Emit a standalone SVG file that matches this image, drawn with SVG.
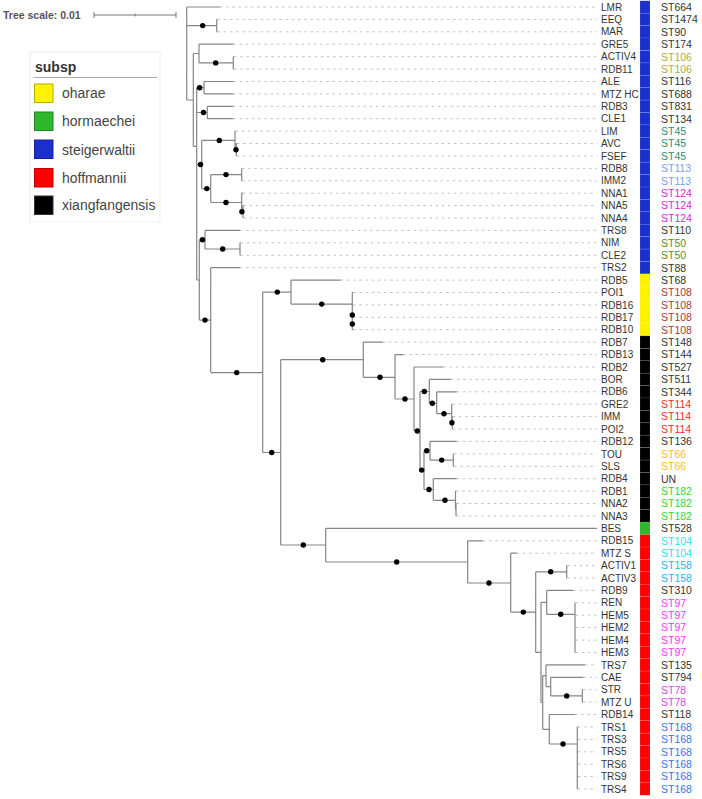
<svg xmlns="http://www.w3.org/2000/svg" width="702" height="799" viewBox="0 0 702 799">
<style>
text{font-family:"Liberation Sans",Arial,sans-serif}
.nm{font-size:10px;fill:#333}
.st{font-size:10.5px;fill:#333}
.br{fill:none;stroke:#858585;stroke-width:1.2}
.ds{fill:none;stroke:#c2c2c2;stroke-width:1;stroke-dasharray:2.5 3.7}
.bs{fill:#000}
.b{fill:#1b2fce}.y{fill:#fff200}.k{fill:#000}.g{fill:#2db82d}.r{fill:#ff0000}
.cell{stroke:#fff;stroke-opacity:0.18;stroke-width:0.6}
.s106{fill:#b4a84a}.s45{fill:#2a8c7e}.s113{fill:#7aa0e8}.s124{fill:#d81fd0}.s50{fill:#5a8c28}
.s108{fill:#a83838}.s114{fill:#ff2a2a}.s66{fill:#ffbb22}.s182{fill:#22dd33}.s104{fill:#22e6f0}
.s158{fill:#22b4f5}.s97{fill:#ff33ff}.s78{fill:#dd44ee}.s168{fill:#3377ee}
.lg{font-size:14px;fill:#444}
</style>
<rect width="702" height="799" fill="#fff"/>
<g id="scale">
<text x="3" y="18.5" font-size="10.5" font-weight="bold" fill="#555">Tree scale: 0.01</text>
<path d="M94 15 H176 M94 12 V18 M135 13.5 V16.5 M176 12 V18" fill="none" stroke="#777" stroke-width="1"/>
</g>
<g id="legend">
<rect x="30" y="52" width="130" height="170" fill="#fff" stroke="#eeeeee" stroke-width="1"/>
<text x="35" y="72" font-size="14" font-weight="bold" fill="#333">subsp</text>
<line x1="34" y1="77.5" x2="157" y2="77.5" stroke="#aaa" stroke-width="1"/>
<g id="lg-oharae"><rect x="34.5" y="84" width="18.5" height="18.5" fill="#fff200" stroke="#b9ab00"/><text class="lg" x="62" y="98">oharae</text></g>
<g id="lg-hormaechei"><rect x="34.5" y="112" width="18.5" height="18.5" fill="#2db82d" stroke="#1e861e"/><text class="lg" x="62" y="126">hormaechei</text></g>
<g id="lg-steigerwaltii"><rect x="34.5" y="140" width="18.5" height="18.5" fill="#1b2fce" stroke="#14229a"/><text class="lg" x="62" y="154.5">steigerwaltii</text></g>
<g id="lg-hoffmannii"><rect x="34.5" y="168.5" width="18.5" height="18.5" fill="#ff0000" stroke="#c00000"/><text class="lg" x="62" y="182.5">hoffmannii</text></g>
<g id="lg-xiangfangensis"><rect x="34.5" y="196" width="18.5" height="18.5" fill="#000" stroke="#333"/><text class="lg" x="62" y="210">xiangfangensis</text></g>
</g>
<g id="connectors">
<path class="ds" d="M220 7 H597 M217.5 19.4 H597 M217.5 31.8 H597 M233.3 44.2 H597 M234 56.7 H597 M234 69.1 H597 M233.3 81.5 H597 M233.3 93.9 H597 M233.3 106.3 H597 M233.3 118.7 H597 M235.5 131.1 H597 M237 143.5 H597 M237 156 H597 M242 168.4 H597 M242 180.8 H597 M243 193.2 H597 M243.5 205.6 H597 M243.5 218 H597 M240 230.4 H597 M240.5 242.8 H597 M240.5 255.3 H597 M240 267.7 H597 M340.7 280.1 H597 M353 292.5 H597 M353 304.9 H597 M353 317.3 H597 M353 329.7 H597 M382.7 342.1 H597 M403.3 354.6 H597 M443.3 367 H597 M450.7 379.4 H597 M456.7 391.8 H597 M452.3 404.2 H597 M452.8 416.6 H597 M452.8 429 H597 M456.7 441.4 H597 M454 453.9 H597 M454 466.3 H597 M456.7 478.7 H597 M456 491.1 H597 M456.5 503.5 H597 M456.5 515.9 H597 M482.7 540.8 H597 M516.7 553.2 H597 M567.3 565.6 H597 M567.3 578 H597 M573.3 590.4 H597 M575.5 602.8 H597 M575.5 615.2 H597 M575.5 627.6 H597 M575.5 640.1 H597 M575.5 652.5 H597 M585 664.9 H597 M583.3 677.3 H597 M583 689.7 H597 M583 702.1 H597 M575 714.5 H597 M578 726.9 H597 M578 739.4 H597 M578 751.8 H597 M578 764.2 H597 M578 776.6 H597 M578 789 H597"/>
<path class="br" d="M186.7 7 V100 M216.7 19.4 V31.8 M193.3 53.5 V146.4 M199 44.2 V62.9 M233.3 56.7 V69.1 M196.7 87.7 V280 M204 81.5 V93.9 M207.3 106.3 V118.7 M201.7 140.4 V188.6 M235 131.1 V149.7 M236.3 143.5 V156 M210.7 174.6 V202.5 M241.7 168.4 V180.8 M241.7 193.2 V211.8 M243 205.6 V218 M199.3 239.7 V320.1 M205 230.4 V249 M240 242.8 V255.3 M210.7 267.7 V372.6 M262.7 292.1 V452.5 M291 280.1 V304.1 M352.3 292.5 V329.7 M280.7 359.7 V545 M363.3 342.1 V377.3 M395 354.6 V399 M414 367 V431 M420 391.5 V470.1 M429.3 379.4 V403.3 M436.7 391.8 V413.7 M451.7 404.2 V422.8 M452.3 416.6 V429 M424 450.7 V489.5 M430 441.4 V460.1 M453.3 453.9 V466.3 M433.3 478.7 V500.3 M455.5 491.1 V509.7 M456 503.5 V515.9 M325.7 528.3 V562 M467.7 540.8 V583 M510.7 553.2 V612.1 M535.7 571.8 V652.4 M566.7 565.6 V578 M541 602.3 V702.5 M546.7 590.4 V614.3 M575 602.8 V652.5 M542.7 675.7 V729.3 M546 664.9 V686.6 M550.7 677.3 V695.9 M582.3 689.7 V702.1 M549.3 714.5 V744 M577.3 726.9 V789
M186.7 25.6 H216.7 M186.7 100 H193.3 M193.3 53.5 H199 M199 62.9 H233.3 M193.3 146.4 H196.7 M196.7 87.7 H204 M196.7 112.5 H207.3 M196.7 164.5 H201.7 M201.7 140.4 H235 M235 149.7 H236.3 M201.7 188.6 H210.7 M210.7 174.6 H241.7 M210.7 202.5 H241.7 M241.7 211.8 H243 M196.7 280 H199.3 M199.3 239.7 H205 M205 249 H240 M199.3 320.1 H210.7 M210.7 372.6 H262.7 M262.7 292.1 H291 M291 304.1 H352.3 M262.7 452.5 H280.7 M280.7 359.7 H363.3 M363.3 377.3 H395 M395 399 H414 M414 431 H420 M420 391.5 H429.3 M429.3 403.3 H436.7 M436.7 413.7 H451.7 M451.7 422.8 H452.3 M420 470.1 H424 M424 450.7 H430 M430 460.1 H453.3 M424 489.5 H433.3 M433.3 500.3 H455.5 M455.5 509.7 H456 M280.7 545 H325.7 M325.7 562 H467.7 M467.7 583 H510.7 M510.7 612.1 H535.7 M535.7 571.8 H566.7 M535.7 652.4 H541 M541 602.3 H546.7 M546.7 614.3 H575 M541 702.5 H542.7 M542.7 675.7 H546 M546 686.6 H550.7 M550.7 695.9 H582.3 M542.7 729.3 H549.3 M549.3 744 H577.3
M186.7 7 H220 M216.7 19.4 H217.5 M216.7 31.8 H217.5 M199 44.2 H233.3 M233.3 56.7 H234 M233.3 69.1 H234 M204 81.5 H233.3 M204 93.9 H233.3 M207.3 106.3 H233.3 M207.3 118.7 H233.3 M235 131.1 H235.5 M236.3 143.5 H237 M236.3 156 H237 M241.7 168.4 H242 M241.7 180.8 H242 M241.7 193.2 H243 M243 205.6 H243.5 M243 218 H243.5 M205 230.4 H240 M240 242.8 H240.5 M240 255.3 H240.5 M210.7 267.7 H240 M291 280.1 H340.7 M352.3 292.5 H353 M352.3 304.9 H353 M352.3 317.3 H353 M352.3 329.7 H353 M363.3 342.1 H382.7 M395 354.6 H403.3 M414 367 H443.3 M429.3 379.4 H450.7 M436.7 391.8 H456.7 M451.7 404.2 H452.3 M452.3 416.6 H452.8 M452.3 429 H452.8 M430 441.4 H456.7 M453.3 453.9 H454 M453.3 466.3 H454 M433.3 478.7 H456.7 M455.5 491.1 H456 M456 503.5 H456.5 M456 515.9 H456.5 M325.7 528.3 H597 M467.7 540.8 H482.7 M510.7 553.2 H516.7 M566.7 565.6 H567.3 M566.7 578 H567.3 M546.7 590.4 H573.3 M575 602.8 H575.5 M575 615.2 H575.5 M575 627.6 H575.5 M575 640.1 H575.5 M575 652.5 H575.5 M546 664.9 H585 M550.7 677.3 H583.3 M582.3 689.7 H583 M582.3 702.1 H583 M549.3 714.5 H575 M577.3 726.9 H578 M577.3 739.4 H578 M577.3 751.8 H578 M577.3 764.2 H578 M577.3 776.6 H578 M577.3 789 H578"/>
<g id="support">
<circle class="bs" cx="202.7" cy="25.6" r="2.7"/><circle class="bs" cx="215.7" cy="62.9" r="2.7"/><circle class="bs" cx="199.6" cy="87.7" r="2.7"/><circle class="bs" cx="203.5" cy="112.5" r="2.7"/><circle class="bs" cx="219.3" cy="140.4" r="2.7"/><circle class="bs" cx="236" cy="149.7" r="2.7"/><circle class="bs" cx="200.5" cy="164.5" r="2.7"/><circle class="bs" cx="206.8" cy="188.6" r="2.7"/><circle class="bs" cx="226" cy="174.6" r="2.7"/><circle class="bs" cx="226" cy="202.5" r="2.7"/><circle class="bs" cx="241.9" cy="211.8" r="2.7"/><circle class="bs" cx="202.5" cy="239.7" r="2.7"/><circle class="bs" cx="222.7" cy="249" r="2.7"/><circle class="bs" cx="205" cy="320.1" r="2.7"/><circle class="bs" cx="236.7" cy="372.6" r="2.7"/><circle class="bs" cx="277.3" cy="292.1" r="2.7"/><circle class="bs" cx="321.7" cy="304.1" r="2.7"/><circle class="bs" cx="352.3" cy="315" r="2.7"/><circle class="bs" cx="352.3" cy="324" r="2.7"/><circle class="bs" cx="271.7" cy="452.5" r="2.7"/><circle class="bs" cx="322.7" cy="359.7" r="2.7"/><circle class="bs" cx="380" cy="377.3" r="2.7"/><circle class="bs" cx="405" cy="399" r="2.7"/><circle class="bs" cx="417.3" cy="431" r="2.7"/><circle class="bs" cx="424.3" cy="391.5" r="2.7"/><circle class="bs" cx="432.3" cy="403.3" r="2.7"/><circle class="bs" cx="444" cy="413.7" r="2.7"/><circle class="bs" cx="451.9" cy="422.8" r="2.7"/><circle class="bs" cx="421.7" cy="470.1" r="2.7"/><circle class="bs" cx="426.7" cy="450.7" r="2.7"/><circle class="bs" cx="441.7" cy="460.1" r="2.7"/><circle class="bs" cx="429" cy="489.5" r="2.7"/><circle class="bs" cx="445" cy="500.3" r="2.7"/><circle class="bs" cx="303.3" cy="545" r="2.7"/><circle class="bs" cx="396.7" cy="562" r="2.7"/><circle class="bs" cx="489" cy="583" r="2.7"/><circle class="bs" cx="523.3" cy="612.1" r="2.7"/><circle class="bs" cx="550.7" cy="571.8" r="2.7"/><circle class="bs" cx="560.7" cy="614.3" r="2.7"/><circle class="bs" cx="566.7" cy="695.9" r="2.7"/><circle class="bs" cx="563" cy="744" r="2.7"/>
</g>
</g>
<g id="leaves">
<g id="leaf-LMR"><rect class="b cell" x="640" y="0.8" width="10" height="12.4"/><text class="nm" x="601" y="10.6">LMR</text><text class="st" x="661" y="10.8">ST664</text></g>
<g id="leaf-EEQ"><rect class="b cell" x="640" y="13.2" width="10" height="12.4"/><text class="nm" x="601" y="23">EEQ</text><text class="st" x="661" y="23.2">ST1474</text></g>
<g id="leaf-MAR"><rect class="b cell" x="640" y="25.6" width="10" height="12.4"/><text class="nm" x="601" y="35.4">MAR</text><text class="st" x="661" y="35.6">ST90</text></g>
<g id="leaf-GRE5"><rect class="b cell" x="640" y="38" width="10" height="12.4"/><text class="nm" x="601" y="47.8">GRE5</text><text class="st" x="661" y="48">ST174</text></g>
<g id="leaf-ACTIV4"><rect class="b cell" x="640" y="50.5" width="10" height="12.4"/><text class="nm" x="601" y="60.3">ACTIV4</text><text class="st s106" x="661" y="60.5">ST106</text></g>
<g id="leaf-RDB11"><rect class="b cell" x="640" y="62.9" width="10" height="12.4"/><text class="nm" x="601" y="72.7">RDB11</text><text class="st s106" x="661" y="72.9">ST106</text></g>
<g id="leaf-ALE"><rect class="b cell" x="640" y="75.3" width="10" height="12.4"/><text class="nm" x="601" y="85.1">ALE</text><text class="st" x="661" y="85.3">ST116</text></g>
<g id="leaf-MTZHC"><rect class="b cell" x="640" y="87.7" width="10" height="12.4"/><text class="nm" x="601" y="97.5">MTZ HC</text><text class="st" x="661" y="97.7">ST688</text></g>
<g id="leaf-RDB3"><rect class="b cell" x="640" y="100.1" width="10" height="12.4"/><text class="nm" x="601" y="109.9">RDB3</text><text class="st" x="661" y="110.1">ST831</text></g>
<g id="leaf-CLE1"><rect class="b cell" x="640" y="112.5" width="10" height="12.4"/><text class="nm" x="601" y="122.3">CLE1</text><text class="st" x="661" y="122.5">ST134</text></g>
<g id="leaf-LIM"><rect class="b cell" x="640" y="124.9" width="10" height="12.4"/><text class="nm" x="601" y="134.7">LIM</text><text class="st s45" x="661" y="134.9">ST45</text></g>
<g id="leaf-AVC"><rect class="b cell" x="640" y="137.3" width="10" height="12.4"/><text class="nm" x="601" y="147.1">AVC</text><text class="st s45" x="661" y="147.3">ST45</text></g>
<g id="leaf-FSEF"><rect class="b cell" x="640" y="149.8" width="10" height="12.4"/><text class="nm" x="601" y="159.6">FSEF</text><text class="st s45" x="661" y="159.8">ST45</text></g>
<g id="leaf-RDB8"><rect class="b cell" x="640" y="162.2" width="10" height="12.4"/><text class="nm" x="601" y="172">RDB8</text><text class="st s113" x="661" y="172.2">ST113</text></g>
<g id="leaf-IMM2"><rect class="b cell" x="640" y="174.6" width="10" height="12.4"/><text class="nm" x="601" y="184.4">IMM2</text><text class="st s113" x="661" y="184.6">ST113</text></g>
<g id="leaf-NNA1"><rect class="b cell" x="640" y="187" width="10" height="12.4"/><text class="nm" x="601" y="196.8">NNA1</text><text class="st s124" x="661" y="197">ST124</text></g>
<g id="leaf-NNA5"><rect class="b cell" x="640" y="199.4" width="10" height="12.4"/><text class="nm" x="601" y="209.2">NNA5</text><text class="st s124" x="661" y="209.4">ST124</text></g>
<g id="leaf-NNA4"><rect class="b cell" x="640" y="211.8" width="10" height="12.4"/><text class="nm" x="601" y="221.6">NNA4</text><text class="st s124" x="661" y="221.8">ST124</text></g>
<g id="leaf-TRS8"><rect class="b cell" x="640" y="224.2" width="10" height="12.4"/><text class="nm" x="601" y="234">TRS8</text><text class="st" x="661" y="234.2">ST110</text></g>
<g id="leaf-NIM"><rect class="b cell" x="640" y="236.6" width="10" height="12.4"/><text class="nm" x="601" y="246.4">NIM</text><text class="st s50" x="661" y="246.6">ST50</text></g>
<g id="leaf-CLE2"><rect class="b cell" x="640" y="249.1" width="10" height="12.4"/><text class="nm" x="601" y="258.9">CLE2</text><text class="st s50" x="661" y="259.1">ST50</text></g>
<g id="leaf-TRS2"><rect class="b cell" x="640" y="261.5" width="10" height="12.4"/><text class="nm" x="601" y="271.3">TRS2</text><text class="st" x="661" y="271.5">ST88</text></g>
<g id="leaf-RDB5"><rect class="y" x="640" y="273.9" width="10" height="12.5"/><text class="nm" x="601" y="283.7">RDB5</text><text class="st" x="661" y="283.9">ST68</text></g>
<g id="leaf-POI1"><rect class="y" x="640" y="286.3" width="10" height="12.5"/><text class="nm" x="601" y="296.1">POI1</text><text class="st s108" x="661" y="296.3">ST108</text></g>
<g id="leaf-RDB16"><rect class="y" x="640" y="298.7" width="10" height="12.5"/><text class="nm" x="601" y="308.5">RDB16</text><text class="st s108" x="661" y="308.7">ST108</text></g>
<g id="leaf-RDB17"><rect class="y" x="640" y="311.1" width="10" height="12.5"/><text class="nm" x="601" y="320.9">RDB17</text><text class="st s108" x="661" y="321.1">ST108</text></g>
<g id="leaf-RDB10"><rect class="y" x="640" y="323.5" width="10" height="12.5"/><text class="nm" x="601" y="333.3">RDB10</text><text class="st s108" x="661" y="333.5">ST108</text></g>
<g id="leaf-RDB7"><rect class="k cell" x="640" y="335.9" width="10" height="12.4"/><text class="nm" x="601" y="345.7">RDB7</text><text class="st" x="661" y="345.9">ST148</text></g>
<g id="leaf-RDB13"><rect class="k cell" x="640" y="348.4" width="10" height="12.4"/><text class="nm" x="601" y="358.2">RDB13</text><text class="st" x="661" y="358.4">ST144</text></g>
<g id="leaf-RDB2"><rect class="k cell" x="640" y="360.8" width="10" height="12.4"/><text class="nm" x="601" y="370.6">RDB2</text><text class="st" x="661" y="370.8">ST527</text></g>
<g id="leaf-BOR"><rect class="k cell" x="640" y="373.2" width="10" height="12.4"/><text class="nm" x="601" y="383">BOR</text><text class="st" x="661" y="383.2">ST511</text></g>
<g id="leaf-RDB6"><rect class="k cell" x="640" y="385.6" width="10" height="12.4"/><text class="nm" x="601" y="395.4">RDB6</text><text class="st" x="661" y="395.6">ST344</text></g>
<g id="leaf-GRE2"><rect class="k cell" x="640" y="398" width="10" height="12.4"/><text class="nm" x="601" y="407.8">GRE2</text><text class="st s114" x="661" y="408">ST114</text></g>
<g id="leaf-IMM"><rect class="k cell" x="640" y="410.4" width="10" height="12.4"/><text class="nm" x="601" y="420.2">IMM</text><text class="st s114" x="661" y="420.4">ST114</text></g>
<g id="leaf-POI2"><rect class="k cell" x="640" y="422.8" width="10" height="12.4"/><text class="nm" x="601" y="432.6">POI2</text><text class="st s114" x="661" y="432.8">ST114</text></g>
<g id="leaf-RDB12"><rect class="k cell" x="640" y="435.2" width="10" height="12.4"/><text class="nm" x="601" y="445">RDB12</text><text class="st" x="661" y="445.2">ST136</text></g>
<g id="leaf-TOU"><rect class="k cell" x="640" y="447.7" width="10" height="12.4"/><text class="nm" x="601" y="457.5">TOU</text><text class="st s66" x="661" y="457.7">ST66</text></g>
<g id="leaf-SLS"><rect class="k cell" x="640" y="460.1" width="10" height="12.4"/><text class="nm" x="601" y="469.9">SLS</text><text class="st s66" x="661" y="470.1">ST66</text></g>
<g id="leaf-RDB4"><rect class="k cell" x="640" y="472.5" width="10" height="12.4"/><text class="nm" x="601" y="482.3">RDB4</text><text class="st" x="661" y="482.5">UN</text></g>
<g id="leaf-RDB1"><rect class="k cell" x="640" y="484.9" width="10" height="12.4"/><text class="nm" x="601" y="494.7">RDB1</text><text class="st s182" x="661" y="494.9">ST182</text></g>
<g id="leaf-NNA2"><rect class="k cell" x="640" y="497.3" width="10" height="12.4"/><text class="nm" x="601" y="507.1">NNA2</text><text class="st s182" x="661" y="507.3">ST182</text></g>
<g id="leaf-NNA3"><rect class="k cell" x="640" y="509.7" width="10" height="12.4"/><text class="nm" x="601" y="519.5">NNA3</text><text class="st s182" x="661" y="519.7">ST182</text></g>
<g id="leaf-BES"><rect class="g" x="640" y="522.1" width="10" height="12.5"/><text class="nm" x="601" y="531.9">BES</text><text class="st" x="661" y="532.1">ST528</text></g>
<g id="leaf-RDB15"><rect class="r cell" x="640" y="534.6" width="10" height="12.4"/><text class="nm" x="601" y="544.4">RDB15</text><text class="st s104" x="661" y="544.6">ST104</text></g>
<g id="leaf-MTZS"><rect class="r cell" x="640" y="547" width="10" height="12.4"/><text class="nm" x="601" y="556.8">MTZ S</text><text class="st s104" x="661" y="557">ST104</text></g>
<g id="leaf-ACTIV1"><rect class="r cell" x="640" y="559.4" width="10" height="12.4"/><text class="nm" x="601" y="569.2">ACTIV1</text><text class="st s158" x="661" y="569.4">ST158</text></g>
<g id="leaf-ACTIV3"><rect class="r cell" x="640" y="571.8" width="10" height="12.4"/><text class="nm" x="601" y="581.6">ACTIV3</text><text class="st s158" x="661" y="581.8">ST158</text></g>
<g id="leaf-RDB9"><rect class="r cell" x="640" y="584.2" width="10" height="12.4"/><text class="nm" x="601" y="594">RDB9</text><text class="st" x="661" y="594.2">ST310</text></g>
<g id="leaf-REN"><rect class="r cell" x="640" y="596.6" width="10" height="12.4"/><text class="nm" x="601" y="606.4">REN</text><text class="st s97" x="661" y="606.6">ST97</text></g>
<g id="leaf-HEM5"><rect class="r cell" x="640" y="609" width="10" height="12.4"/><text class="nm" x="601" y="618.8">HEM5</text><text class="st s97" x="661" y="619">ST97</text></g>
<g id="leaf-HEM2"><rect class="r cell" x="640" y="621.4" width="10" height="12.4"/><text class="nm" x="601" y="631.2">HEM2</text><text class="st s97" x="661" y="631.4">ST97</text></g>
<g id="leaf-HEM4"><rect class="r cell" x="640" y="633.9" width="10" height="12.4"/><text class="nm" x="601" y="643.7">HEM4</text><text class="st s97" x="661" y="643.9">ST97</text></g>
<g id="leaf-HEM3"><rect class="r cell" x="640" y="646.3" width="10" height="12.4"/><text class="nm" x="601" y="656.1">HEM3</text><text class="st s97" x="661" y="656.3">ST97</text></g>
<g id="leaf-TRS7"><rect class="r cell" x="640" y="658.7" width="10" height="12.4"/><text class="nm" x="601" y="668.5">TRS7</text><text class="st" x="661" y="668.7">ST135</text></g>
<g id="leaf-CAE"><rect class="r cell" x="640" y="671.1" width="10" height="12.4"/><text class="nm" x="601" y="680.9">CAE</text><text class="st" x="661" y="681.1">ST794</text></g>
<g id="leaf-STR"><rect class="r cell" x="640" y="683.5" width="10" height="12.4"/><text class="nm" x="601" y="693.3">STR</text><text class="st s78" x="661" y="693.5">ST78</text></g>
<g id="leaf-MTZU"><rect class="r cell" x="640" y="695.9" width="10" height="12.4"/><text class="nm" x="601" y="705.7">MTZ U</text><text class="st s78" x="661" y="705.9">ST78</text></g>
<g id="leaf-RDB14"><rect class="r cell" x="640" y="708.3" width="10" height="12.4"/><text class="nm" x="601" y="718.1">RDB14</text><text class="st" x="661" y="718.3">ST118</text></g>
<g id="leaf-TRS1"><rect class="r cell" x="640" y="720.7" width="10" height="12.4"/><text class="nm" x="601" y="730.5">TRS1</text><text class="st s168" x="661" y="730.7">ST168</text></g>
<g id="leaf-TRS3"><rect class="r cell" x="640" y="733.2" width="10" height="12.4"/><text class="nm" x="601" y="743">TRS3</text><text class="st s168" x="661" y="743.2">ST168</text></g>
<g id="leaf-TRS5"><rect class="r cell" x="640" y="745.6" width="10" height="12.4"/><text class="nm" x="601" y="755.4">TRS5</text><text class="st s168" x="661" y="755.6">ST168</text></g>
<g id="leaf-TRS6"><rect class="r cell" x="640" y="758" width="10" height="12.4"/><text class="nm" x="601" y="767.8">TRS6</text><text class="st s168" x="661" y="768">ST168</text></g>
<g id="leaf-TRS9"><rect class="r cell" x="640" y="770.4" width="10" height="12.4"/><text class="nm" x="601" y="780.2">TRS9</text><text class="st s168" x="661" y="780.4">ST168</text></g>
<g id="leaf-TRS4"><rect class="r cell" x="640" y="782.8" width="10" height="12.4"/><text class="nm" x="601" y="792.6">TRS4</text><text class="st s168" x="661" y="792.8">ST168</text></g>
</g>
</svg>
